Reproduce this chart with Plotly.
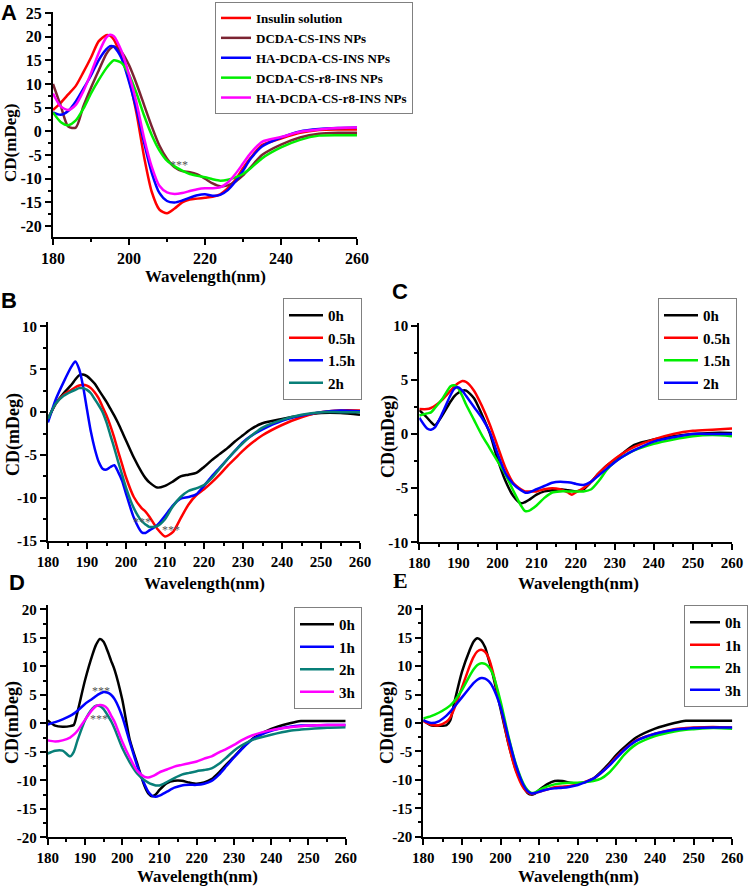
import plotly.graph_objects as go

W, H = 750, 886
SERIF = "Liberation Serif, Times New Roman, serif"
SANS = "Liberation Sans, Arial, sans-serif"

# ---------------- Panel A data ----------------
WL_A = [180, 182, 184, 186, 188, 190, 192, 194, 195, 196, 198, 200, 202, 204, 206, 208, 210,
        212, 214, 216, 218, 220, 222, 224, 226, 228, 230, 232, 235, 240, 245, 250, 255, 260]
A_insulin = [4.5, 6.0, 7.8, 9.6, 12.5, 15.6, 19.0, 20.3, 20.2, 19.4, 15.8, 11.0, 3.7, -5.5, -12.8,
             -16.5, -17.3, -16.3, -15.0, -14.4, -14.2, -14.0, -13.8, -13.3, -12.0, -10.2, -7.8,
             -5.6, -2.9, -1.5, -0.3, 0.3, 0.4, 0.4]
A_dcda_cs = [10.0, 5.5, 1.0, 0.8, 5.3, 9.2, 12.8, 16.3, 17.4, 17.9, 16.8, 14.0, 10.0, 5.5, 1.0,
             -3.0, -5.8, -7.6, -8.4, -8.6, -9.1, -10.0, -11.0, -11.6, -11.4, -10.6, -9.3, -7.6,
             -5.0, -2.8, -1.3, -0.5, -0.3, -0.3]
A_ha_dcda_cs = [4.0, 3.5, 4.3, 6.3, 9.0, 11.8, 15.0, 17.3, 18.0, 17.9, 15.5, 10.5, 4.5, -2.5, -8.8,
                -13.0, -14.7, -15.0, -14.6, -14.0, -13.5, -13.3, -13.6, -13.4, -12.4, -10.6, -8.3,
                -5.8, -3.2, -1.3, 0.0, 0.5, 0.7, 0.8]
A_dcda_cs_r8 = [4.0, 2.0, 1.3, 2.3, 4.8, 8.0, 10.8, 13.3, 14.3, 15.0, 14.5, 12.0, 8.0, 3.3, -0.8,
                -4.0, -6.2, -7.4, -8.3, -9.0, -9.4, -9.7, -10.1, -10.4, -10.2, -9.7, -9.0, -7.8,
                -5.7, -3.4, -1.8, -0.9, -0.8, -0.8]
A_ha_dcda_cs_r8 = [8.0, 5.3, 4.5, 5.6, 8.5, 12.3, 16.5, 19.8, 20.4, 20.1, 17.0, 12.0, 6.0, -1.5,
                   -7.5, -11.5, -12.9, -13.2, -13.0, -12.6, -12.2, -12.0, -12.0, -11.8, -10.8,
                   -9.0, -6.8, -4.6, -2.2, -1.2, -0.1, 0.4, 0.7, 0.8]
A_names = ["Insulin solution", "DCDA-CS-INS NPs", "HA-DCDA-CS-INS NPs",
           "DCDA-CS-r8-INS NPs", "HA-DCDA-CS-r8-INS NPs"]

# ---------------- Panel B data ----------------
WL_B = [180, 182, 184, 186, 187, 188, 189, 190, 191, 192, 193, 194, 195, 196, 197, 198, 199, 200,
        202, 204, 205, 206, 208, 210, 212, 214, 216, 218, 220, 222, 224, 226, 228, 230, 232,
        235, 240, 245, 250, 255, 260]
B_0h = [-0.8, 1.0, 2.2, 3.2, 3.8, 4.3, 4.4, 4.2, 3.8, 3.3, 2.6, 1.9, 1.2, 0.4, -0.4, -1.3, -2.3,
        -3.3, -5.3, -7.0, -7.7, -8.2, -8.8, -8.6, -8.1, -7.5, -7.3, -7.1, -6.4, -5.6, -4.9, -4.2,
        -3.4, -2.7, -2.0, -1.3, -0.8, -0.4, -0.1, -0.1, -0.3]
B_05h = [-0.8, 1.0, 2.0, 2.6, 2.9, 3.1, 3.2, 3.1, 2.8, 2.3, 1.6, 0.6, -0.4, -1.6, -3.0, -4.6, -6.1,
         -7.6, -9.9, -11.2, -11.6, -12.2, -13.6, -14.5, -14.0, -12.4, -10.8, -9.7, -9.0, -8.2,
         -7.3, -6.3, -5.4, -4.5, -3.7, -2.7, -1.5, -0.6, 0.0, 0.2, 0.2]
B_15h = [-1.2, 1.5, 3.5, 5.3, 5.9, 5.0, 3.0, 0.3, -2.3, -4.3, -5.8, -6.6, -6.7, -6.4, -6.2, -7.0,
         -8.0, -9.5, -12.3, -14.0, -14.1, -13.8, -13.2, -12.1, -10.9, -10.1, -9.9, -9.6, -8.6,
         -7.5, -6.5, -5.5, -4.5, -3.5, -2.8, -2.0, -1.0, -0.4, 0.0, 0.2, 0.1]
B_2h = [-0.8, 1.0, 1.9, 2.4, 2.6, 2.8, 2.8, 2.6, 2.2, 1.5, 0.8, 0.0, -1.2, -2.7, -4.2, -5.8, -7.3,
        -8.8, -11.2, -12.7, -13.1, -13.4, -13.3, -12.5, -11.0, -9.9, -9.2, -8.9, -8.5, -7.7, -6.6,
        -5.5, -4.5, -3.6, -2.8, -1.8, -0.9, -0.3, 0.0, 0.0, 0.0]

# ---------------- Panel C data ----------------
WL_C = [180, 182, 183, 184, 186, 188, 189, 190, 191, 192, 194, 196, 198, 200, 202, 204, 206, 207,
        208, 210, 212, 214, 216, 218, 219, 220, 222, 224, 226, 228, 230, 232, 235, 240, 245, 250,
        255, 260]
C_0h = [2.2, 1.5, 1.1, 0.8, 1.8, 3.0, 3.5, 3.8, 4.0, 4.0, 3.3, 1.8, 0.1, -2.3, -4.3, -5.7, -6.4,
        -6.3, -6.1, -5.6, -5.3, -5.2, -5.1, -5.2, -5.25, -5.3, -5.1, -4.4, -3.6, -2.9, -2.4, -1.8,
        -1.0, -0.5, -0.2, 0.0, 0.1, 0.1]
C_05h = [2.3, 2.3, 2.4, 2.6, 3.2, 4.0, 4.4, 4.7, 4.9, 4.8, 4.0, 2.6, 0.9, -1.1, -3.1, -4.5, -5.1,
         -5.3, -5.3, -5.3, -5.1, -5.0, -5.1, -5.4, -5.6, -5.4, -5.0, -4.4, -3.6, -2.9, -2.3, -1.8,
         -1.2, -0.5, 0.0, 0.3, 0.4, 0.5]
C_15h = [1.7, 1.9, 2.0, 2.4, 3.3, 4.4, 4.5, 4.2, 3.5, 2.7, 1.3, -0.1, -1.3, -2.5, -3.7, -5.2, -6.6,
         -7.1, -7.1, -6.6, -5.9, -5.4, -5.3, -5.3, -5.3, -5.3, -5.3, -5.1, -4.3, -3.3, -2.6, -2.1,
         -1.5, -0.9, -0.5, -0.2, -0.1, -0.2]
C_2h = [1.5, 0.5, 0.4, 0.6, 2.0, 3.6, 4.2, 4.3, 4.0, 3.5, 2.5, 1.5, 0.2, -1.8, -3.6, -4.6, -5.2,
        -5.4, -5.4, -5.1, -4.8, -4.5, -4.4, -4.45, -4.5, -4.6, -4.7, -4.4, -3.8, -3.2, -2.6, -2.1,
        -1.5, -0.7, -0.3, 0.0, 0.0, 0.0]

# ---------------- Panels D / E data ----------------
WL_DE = [180, 182, 184, 186, 187, 188, 190, 192, 193, 194, 195, 196, 197, 198, 200, 202, 204, 206,
         207, 208, 209, 210, 212, 214, 216, 218, 220, 222, 224, 226, 228, 230, 232, 235, 240, 245,
         248, 250, 255, 260]
D_0h = [0.5, -0.4, -0.6, -0.5, -0.3, 2.0, 7.5, 12.0, 13.8, 14.8, 14.3, 12.8, 11.0, 9.3, 4.2, -2.8,
        -7.0, -11.0, -12.3, -12.8, -12.5, -11.7, -10.5, -10.1, -10.1, -10.4, -10.6, -10.4, -9.8,
        -8.6, -7.2, -5.9, -4.5, -2.7, -1.0, 0.0, 0.4, 0.4, 0.4, 0.4]
D_1h = [-0.2, 0.2, 0.7, 1.3, 1.7, 2.2, 3.4, 4.3, 4.8, 5.2, 5.5, 5.4, 5.0, 4.2, 1.2, -3.2, -7.4,
        -10.7, -12.0, -12.7, -12.9, -12.7, -12.0, -11.3, -10.9, -10.8, -10.8, -10.6, -10.1, -9.0,
        -7.5, -6.0, -4.6, -2.8, -1.3, -0.6, -0.4, -0.4, -0.3, -0.3]
D_2h = [-5.3, -4.8, -4.8, -5.8, -5.0, -3.0, 0.5, 2.6, 3.1, 3.0, 2.5, 1.5, 0.4, -1.0, -4.3, -6.8,
        -8.8, -10.0, -10.4, -10.7, -10.9, -10.9, -10.3, -9.6, -9.0, -8.7, -8.4, -8.2, -7.9, -7.1,
        -6.0, -4.8, -3.9, -2.9, -2.0, -1.3, -1.1, -1.0, -0.8, -0.7]
D_3h = [-3.0, -3.2, -3.0, -2.5, -2.0, -1.3, 0.6, 2.4, 3.0, 3.2, 3.1, 2.6, 1.4, 0.2, -3.2, -6.0,
        -8.3, -9.4, -9.5, -9.3, -9.0, -8.6, -8.1, -7.6, -7.3, -7.0, -6.7, -6.2, -5.8, -5.1, -4.5,
        -3.8, -3.0, -2.1, -1.2, -0.7, -0.5, -0.4, -0.3, -0.3]
E_0h = [0.5, -0.4, -0.5, -0.4, 0.5, 3.5, 9.0, 12.8, 14.3, 14.9, 14.5, 13.3, 11.0, 8.5, 2.5, -3.5,
        -8.3, -11.3, -12.3, -12.6, -12.4, -11.8, -10.8, -10.2, -10.2, -10.5, -10.6, -10.4, -9.8,
        -8.6, -7.2, -5.6, -4.3, -2.6, -1.0, 0.0, 0.4, 0.4, 0.4, 0.4]
E_1h = [0.3, -0.3, -0.4, 0.2, 1.0, 2.5, 6.2, 10.0, 11.6, 12.6, 12.9, 12.5, 11.3, 9.0, 3.0, -3.5,
        -8.5, -11.5, -12.2, -12.5, -12.3, -12.1, -11.7, -11.3, -11.2, -11.1, -10.8, -10.3, -9.8,
        -8.8, -7.5, -6.0, -4.7, -3.1, -1.9, -1.1, -0.9, -0.8, -0.7, -0.8]
E_2h = [0.8, 1.2, 1.8, 2.6, 3.1, 3.8, 5.8, 8.3, 9.4, 10.2, 10.5, 10.4, 9.8, 8.6, 3.8, -2.2, -7.3,
        -10.8, -11.8, -12.3, -12.2, -11.8, -11.2, -10.8, -10.6, -10.5, -10.5, -10.4, -10.2, -9.8,
        -8.8, -7.3, -5.6, -3.8, -2.3, -1.5, -1.2, -1.1, -0.9, -1.0]
E_3h = [0.5, 0.0, 0.3, 1.3, 2.0, 2.8, 4.5, 6.2, 7.0, 7.6, 7.9, 7.8, 7.3, 6.3, 2.8, -2.5, -7.5,
        -11.0, -12.0, -12.4, -12.3, -12.1, -11.7, -11.5, -11.4, -11.2, -10.9, -10.4, -9.8, -8.8,
        -7.6, -6.2, -4.8, -3.2, -1.9, -1.2, -1.0, -0.9, -0.8, -0.8]

# ---------------- tick labels ----------------
X_TICKS_A = [180, 200, 220, 240, 260]
X_TICKS = [180, 190, 200, 210, 220, 230, 240, 250, 260]
Y_TICKS_A = [-20, -15, -10, -5, 0, 5, 10, 15, 20, 25]
Y_TICKS_B = [-15, -10, -5, 0, 5, 10]
Y_TICKS_C = [-10, -5, 0, 5, 10]
Y_TICKS_DE = [-20, -15, -10, -5, 0, 5, 10, 15, 20]

RED, BROWN, BLUE, GREEN, MAGENTA = "#FF0000", "#7B2432", "#0000FF", "#00EE00", "#FF00FF"
BLACK, TEAL = "#000000", "#087F78"

fig = go.Figure()


def add(ax, x, y, name, color, legend):
    fig.add_trace(go.Scatter(
        x=x, y=y, name=name, mode="lines",
        line=dict(color=color, width=2.5, shape="spline", smoothing=0.7),
        xaxis="x" + ("" if ax == 1 else str(ax)), yaxis="y" + ("" if ax == 1 else str(ax)),
        legend=legend, hoverinfo="skip"))


for ys, nm, c in zip([A_insulin, A_dcda_cs, A_ha_dcda_cs, A_dcda_cs_r8, A_ha_dcda_cs_r8],
                     A_names, [RED, BROWN, BLUE, GREEN, MAGENTA]):
    add(1, WL_A, ys, nm, c, "legend")
for ys, nm, c in zip([B_0h, B_05h, B_15h, B_2h], ["0h", "0.5h", "1.5h", "2h"],
                     [BLACK, RED, BLUE, TEAL]):
    add(2, WL_B, ys, nm, c, "legend2")
for ys, nm, c in zip([C_0h, C_05h, C_15h, C_2h], ["0h", "0.5h", "1.5h", "2h"],
                     [BLACK, RED, GREEN, BLUE]):
    add(3, WL_C, ys, nm, c, "legend3")
for ys, nm, c in zip([D_0h, D_1h, D_2h, D_3h], ["0h", "1h", "2h", "3h"],
                     [BLACK, BLUE, TEAL, MAGENTA]):
    add(4, WL_DE, ys, nm, c, "legend4")
for ys, nm, c in zip([E_0h, E_1h, E_2h, E_3h], ["0h", "1h", "2h", "3h"],
                     [BLACK, RED, GREEN, BLUE]):
    add(5, WL_DE, ys, nm, c, "legend5")


def frange(a, b, s):
    out, v = [], a
    while v <= b + 1e-9:
        out.append(round(v, 3))
        v += s
    return out


def lab(v):
    return str(v)


panels = [
    # idx, x px, y px, y range, x ticks, x minor, y ticks, font size
    (1, (53, 357), (12, 237), (-22.3, 25.2), X_TICKS_A, 10, Y_TICKS_A, 16),
    (2, (48, 360), (321.7, 540.7), (-15, 10.55), X_TICKS, 5, Y_TICKS_B, 15),
    (3, (419.3, 732), (323.3, 542.3), (-10, 10.22), X_TICKS, 5, Y_TICKS_C, 15),
    (4, (47.7, 345.7), (605, 837.3), (-20, 20.75), X_TICKS, 5, Y_TICKS_DE, 15),
    (5, (423.3, 732.3), (605, 836.7), (-20, 20.75), X_TICKS, 5, Y_TICKS_DE, 15),
]

layout_axes = {}
for idx, (xa, xb), (ya, yb), yr, xt, xmin, yt, fs in panels:
    sfx = "" if idx == 1 else str(idx)
    common = dict(showline=True, linecolor="black", linewidth=2, ticks="outside", ticklen=6,
                  tickwidth=1.5, tickcolor="black", showgrid=False, zeroline=False,
                  automargin=False,
                  tickfont=dict(family=SERIF, size=fs, color="black", weight="bold"),
                  tickmode="array", fixedrange=True)
    layout_axes["xaxis" + sfx] = dict(
        common, domain=[xa / W, xb / W], range=[180, 260], anchor="y" + sfx,
        tickvals=xt, ticktext=[lab(t) for t in xt],
        minor=dict(ticks="outside", ticklen=3, tickwidth=1.5, tickcolor="black",
                   tickmode="array", tickvals=frange(180, 260, xmin)))
    layout_axes["yaxis" + sfx] = dict(
        common, domain=[1 - yb / H, 1 - ya / H], range=list(yr), anchor="x" + sfx,
        tickvals=yt, ticktext=[lab(t) for t in yt],
        minor=dict(ticks="outside", ticklen=3, tickwidth=1.5, tickcolor="black",
                   tickmode="array", tickvals=frange(yr[0] - (yr[0] % 2.5), yr[1], 2.5)))


def legend_box(xp, yp, fs, iw, anchor="left"):
    return dict(x=xp / W, y=1 - yp / H, xanchor=anchor, yanchor="top", bgcolor="white",
                bordercolor="#808080", borderwidth=1, itemwidth=iw, tracegroupgap=0,
                font=dict(family=SERIF, size=fs, color="black", weight="bold"),
                itemclick=False, itemdoubleclick=False)


annotations = []


def paper_text(txt, xp, yp, fs, family=SERIF, angle=0):
    annotations.append(dict(text=txt, x=xp / W, y=1 - yp / H, xref="paper", yref="paper",
                            showarrow=False, textangle=angle, xanchor="center", yanchor="middle",
                            font=dict(family=family, size=fs, color="black", weight="bold")))


# axis titles
for xp, yp in [(205, 276), (204, 583), (578, 583), (197, 876), (578, 876)]:
    paper_text("Wavelength(nm)", xp, yp, 17)
for xp, yp, fs in [(10, 143, 17), (13, 435, 18), (388, 437, 18), (12, 723, 18), (387, 723, 18)]:
    paper_text("CD(mDeg)", xp, yp, fs, angle=-90)
# panel letters
for t, xp, yp, fam in [("A", 9, 12, SANS), ("B", 9, 300, SANS), ("C", 400, 291, SANS),
                       ("D", 17, 582, SANS), ("E", 400, 580, SERIF)]:
    paper_text(t, xp, yp, 22, family=fam)

# significance marks
for ax, xv, yv in [("", 213.2, -6.5), ("2", 204.1, -12.5), ("2", 211.5, -13.4),
                   ("4", 194.3, 6.2), ("4", 193.8, 1.2)]:
    annotations.append(dict(text="***", x=xv, y=yv, xref="x" + ax, yref="y" + ax,
                            showarrow=False, yshift=-3,
                            font=dict(family=SERIF, size=12, color="#555555")))

fig.update_layout(
    template="none",
    width=W, height=H, margin=dict(l=0, r=0, t=0, b=0, autoexpand=False),
    paper_bgcolor="white", plot_bgcolor="white", showlegend=True,
    legend=legend_box(215, 2, 13, 30),
    legend2=legend_box(362, 298, 15, 34, "right"),
    legend3=legend_box(737, 298, 15, 34, "right"),
    legend4=legend_box(362, 607, 15, 34, "right"),
    legend5=legend_box(748, 605, 15, 30, "right"),
    annotations=annotations,
    **layout_axes,
)

fig.write_html("out.html", config={"displayModeBar": False},
               post_script="document.body.style.margin='0';document.body.style.padding='0';")
